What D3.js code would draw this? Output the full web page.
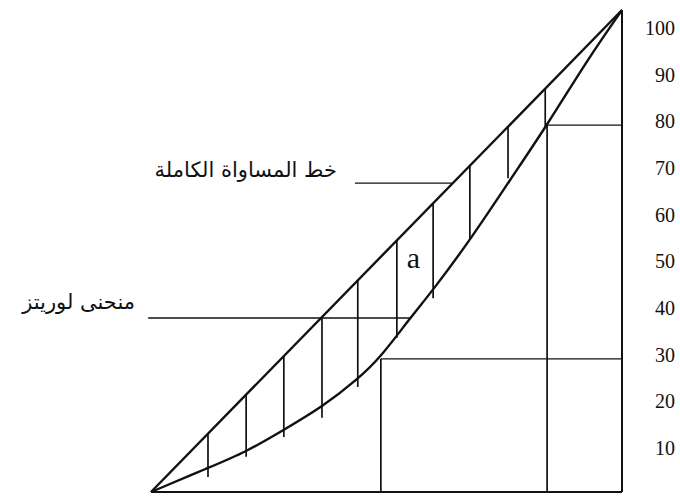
<!DOCTYPE html>
<html>
<head>
<meta charset="utf-8">
<script src="https://cdn.jsdelivr.net/npm/d3@7"></script>
<style>
  body { margin: 0; background: #fff; }
</style>
</head>
<body>
<div id="chart"></div>
<script>
// values (percent)
const lorenzX = [0, 12.1, 20.2, 28.2, 36.3, 43.9, 48.8, 55, 59.9, 68.2, 76.2, 84.1, 92.6, 100];
const lorenzY = [0, 5.0, 8.3, 12.9, 17.6, 23.4, 28.0, 36.1, 41.9, 52.9, 64.7, 76.1, 89.6, 100];
const equalityX = [0, 100];

// hatching between the two curves
const hatchX = [12.1, 20.2, 28.2, 36.3, 43.9, 52.2, 59.9, 67.7, 75.8, 83.7];
const hatchLow = [3.1, 7.3, 11.4, 15.4, 21.8, 32.0, 40.2, 52.3, 65.1, 75.7];

// drop lines from the curve to the axes
const dropX = [48.8, 84.1];
const dropY = [27.6, 76.1];

const tickLabels = [10, 20, 30, 40, 50, 60, 70, 80, 90, 100];

const labelEquality = "خط المساواة الكاملة";
const labelLorenz = "منحنى لوريتز";
const areaLabel = "a";

const W = 680, H = 496;

const svg = d3.select("#chart")
  .append("svg")
    .attr("width", W)
    .attr("height", H);

const x = d3.scaleLinear().domain([0, 100]).range([151, 622]);
const y = d3.scaleLinear().domain([0, 100]).range([492, 10]);
const yTick = d3.scaleLinear().domain([10, 100]).range([448, 28]);

const ink = "#111";

// frame: bottom and right side
svg.append("line")
  .attr("x1", x(0)).attr("y1", y(0))
  .attr("x2", x(100)).attr("y2", y(0))
  .attr("stroke", ink).attr("stroke-width", 2.2);
svg.append("line")
  .attr("x1", x(100)).attr("y1", y(100))
  .attr("x2", x(100)).attr("y2", y(0))
  .attr("stroke", ink).attr("stroke-width", 2);

// line of perfect equality
svg.append("path")
  .datum(equalityX)
  .attr("fill", "none")
  .attr("stroke", ink)
  .attr("stroke-width", 2.4)
  .attr("d", d3.line().x(d => x(d)).y(d => y(d)));

// lorenz curve
const lorenz = lorenzX.map((v, i) => ({x: v, y: lorenzY[i]}));
svg.append("path")
  .datum(lorenz)
  .attr("fill", "none")
  .attr("stroke", ink)
  .attr("stroke-width", 2.4)
  .attr("d", d3.line().x(d => x(d.x)).y(d => y(d.y)).curve(d3.curveBasis));

// vertical hatch lines
svg.selectAll(".hatch")
  .data(hatchX)
  .join("line")
    .attr("class", "hatch")
    .attr("x1", d => x(d)).attr("y1", d => y(d))
    .attr("x2", d => x(d)).attr("y2", (d, i) => y(hatchLow[i]))
    .attr("stroke", ink).attr("stroke-width", 1.7);

// drop lines down to the bottom and across to the right side
svg.selectAll(".dropv")
  .data(dropX)
  .join("line")
    .attr("class", "dropv")
    .attr("x1", d => x(d)).attr("y1", (d, i) => y(dropY[i]))
    .attr("x2", d => x(d)).attr("y2", y(0))
    .attr("stroke", ink).attr("stroke-width", 1.7);
svg.selectAll(".droph")
  .data(dropY)
  .join("line")
    .attr("class", "droph")
    .attr("x1", (d, i) => x(dropX[i])).attr("y1", d => y(d))
    .attr("x2", x(100)).attr("y2", d => y(d))
    .attr("stroke", ink).attr("stroke-width", 1.3);

// tick labels on the right
svg.selectAll(".tick")
  .data(tickLabels)
  .join("text")
    .attr("class", "tick")
    .attr("x", 675)
    .attr("y", d => yTick(d))
    .attr("dy", "0.35em")
    .attr("text-anchor", "end")
    .attr("font-family", "Liberation Serif, serif")
    .attr("font-size", 20)
    .attr("fill", ink)
    .text(d => d);

// leader lines and arabic labels
svg.append("line")
  .attr("x1", x(43.3)).attr("y1", y(64.1))
  .attr("x2", x(64.1)).attr("y2", y(64.1))
  .attr("stroke", ink).attr("stroke-width", 1.3);
svg.append("text")
  .attr("x", 337).attr("y", y(64.1) - 6)
  .attr("text-anchor", "end")
  .attr("font-family", "DejaVu Sans, sans-serif")
  .attr("font-size", 21)
  .attr("fill", ink)
  .text(labelEquality);

svg.append("line")
  .attr("x1", x(-0.6)).attr("y1", y(36.1))
  .attr("x2", x(55)).attr("y2", y(36.1))
  .attr("stroke", ink).attr("stroke-width", 1.3);
svg.append("text")
  .attr("x", 135).attr("y", y(36.1) - 9)
  .attr("text-anchor", "end")
  .attr("font-family", "DejaVu Sans, sans-serif")
  .attr("font-size", 21)
  .attr("fill", ink)
  .text(labelLorenz);

// area marker
svg.append("text")
  .attr("x", x(55.7)).attr("y", y(46.5))
  .attr("text-anchor", "middle")
  .attr("font-family", "Liberation Serif, serif")
  .attr("font-size", 30)
  .attr("fill", ink)
  .text(areaLabel);
</script>
</body>
</html>
